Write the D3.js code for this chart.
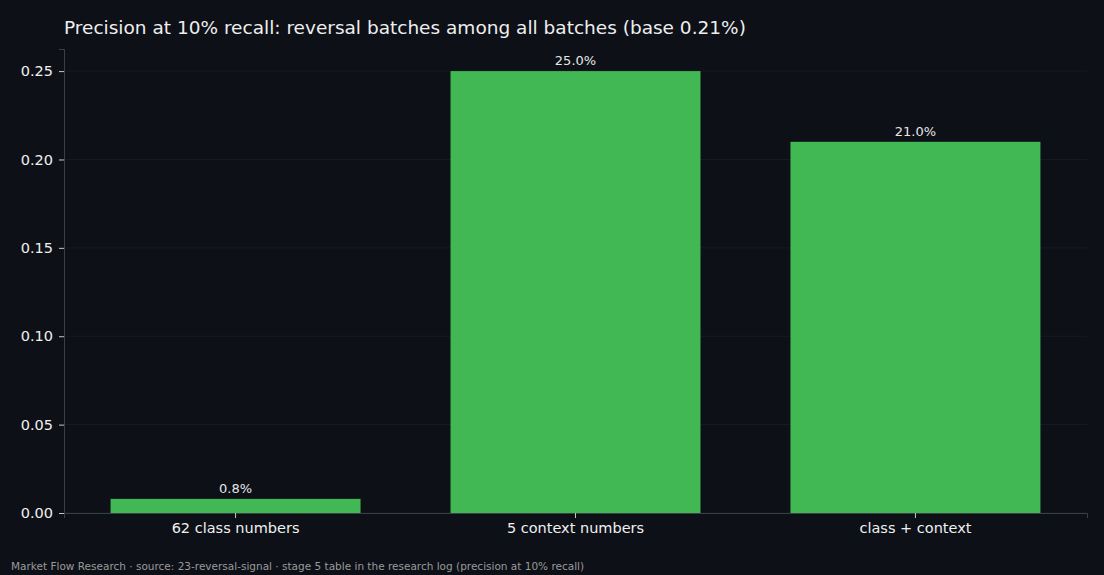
<!DOCTYPE html>
<html><head><meta charset="utf-8">
<script src="https://cdn.jsdelivr.net/npm/d3@7"></script>
<style>body{margin:0;background:#0d1017}svg{display:block}</style>
</head><body>
<svg id="chart" width="1104" height="575"></svg>
<script>
const categories = ["62 class numbers", "5 context numbers", "class + context"];
const precision = [0.008, 0.25, 0.21];
const barLabels = ["0.8%", "25.0%", "21.0%"];
const yTicks = [0, 0.05, 0.10, 0.15, 0.20, 0.25];

const svg = d3.select('#chart');
const margin = {top: 49, right: 17, bottom: 62, left: 64};
const W = 1104, H = 575;
const innerW = W - margin.left - margin.right, innerH = H - margin.top - margin.bottom;
const font = "DejaVu Sans, sans-serif";

svg.append('rect').attr('width', W).attr('height', H).attr('fill', '#0d1017');
const g = svg.append('g').attr('transform', `translate(${margin.left},${margin.top})`);

const x = d3.scaleBand().domain(categories).range([0, innerW]).paddingInner(0.2647).paddingOuter(0.137);
const y = d3.scaleLinear().domain([0, 0.2625]).range([innerH, 0]);

// faint grid
g.selectAll('.grid').data(yTicks).enter().append('line')
  .attr('x1', 0).attr('x2', innerW).attr('y1', d => y(d)).attr('y2', d => y(d))
  .attr('stroke', '#1a1e26').attr('stroke-width', 0.8);

g.selectAll('.bar').data(precision).enter().append('rect')
  .attr('x', (d, i) => x(categories[i])).attr('width', x.bandwidth())
  .attr('y', d => y(d)).attr('height', d => innerH - y(d)).attr('fill', '#41b853');

g.selectAll('.lbl').data(precision).enter().append('text')
  .attr('x', (d, i) => x(categories[i]) + x.bandwidth() / 2).attr('y', d => y(d) - 6)
  .attr('text-anchor', 'middle').attr('fill', '#e6e6e6').attr('font-family', font).attr('font-size', 13)
  .text((d, i) => barLabels[i]);

const ya = g.append('g').call(d3.axisLeft(y).tickValues(yTicks).tickFormat(d3.format('.2f')).tickSize(5).tickPadding(6));
const xa = g.append('g').attr('transform', `translate(0,${innerH})`).call(d3.axisBottom(x).tickSize(5).tickPadding(5));
[ya, xa].forEach(a => {
  a.select('.domain').attr('stroke', '#3a3e46');
  a.selectAll('.tick line').attr('stroke', '#c8c8c8');
  a.selectAll('.tick text').attr('fill', '#f0f0f0').attr('font-family', font).attr('font-size', 14.5);
});

svg.append('text').attr('x', 64).attr('y', 34).attr('fill', '#eeeeee').attr('font-family', font).attr('font-size', 18.5)
  .text('Precision at 10% recall: reversal batches among all batches (base 0.21%)');
svg.append('text').attr('x', 11).attr('y', 570).attr('fill', '#9a9a9a').attr('font-family', font).attr('font-size', 10.5)
  .text('Market Flow Research · source: 23-reversal-signal · stage 5 table in the research log (precision at 10% recall)');
</script>
</body></html>
